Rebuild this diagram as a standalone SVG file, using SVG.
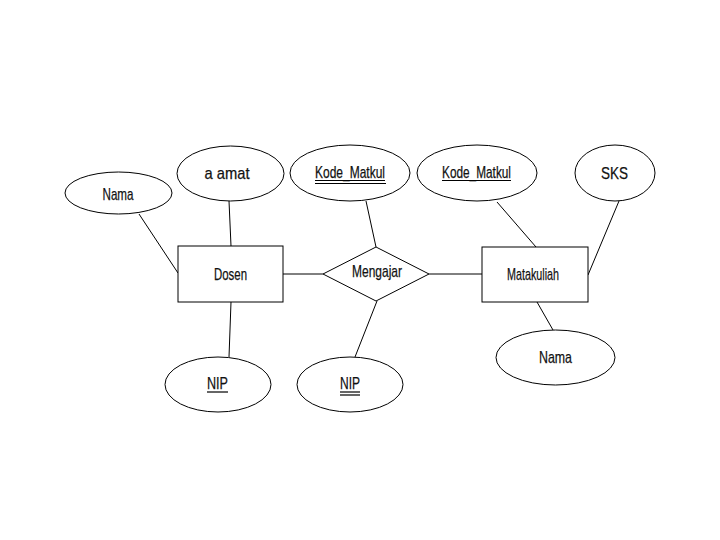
<svg xmlns="http://www.w3.org/2000/svg" width="720" height="540" viewBox="0 0 720 540">
<style>
.s{fill:#fff;stroke:#000;stroke-width:1}
.t{font-family:"Liberation Sans",Arial,sans-serif;font-size:17px;fill:#111;stroke:#111;stroke-width:0.25;text-anchor:middle}
.c{stroke:#000;stroke-width:1;fill:none}
.u{stroke:#000;stroke-width:1.2}
</style>
<rect width="720" height="540" fill="#fff"/>
<g id="connectors">
<line class="c" x1="139" y1="214" x2="178" y2="273"/>
<line class="c" x1="229" y1="201" x2="231" y2="246"/>
<line class="c" x1="231" y1="302" x2="229" y2="357"/>
<line class="c" x1="283" y1="274" x2="323" y2="274"/>
<line class="c" x1="366" y1="201" x2="376" y2="247"/>
<line class="c" x1="377" y1="301" x2="355" y2="357"/>
<line class="c" x1="429" y1="274" x2="482" y2="274"/>
<line class="c" x1="497" y1="202" x2="536" y2="247"/>
<line class="c" x1="619" y1="201" x2="588" y2="275"/>
<line class="c" x1="537" y1="302" x2="553" y2="330"/>
</g>
<g id="nama1">
<ellipse class="s" cx="118.5" cy="193" rx="53.5" ry="21"/>
<text class="t" x="118" y="200" textLength="31" lengthAdjust="spacingAndGlyphs">Nama</text>
</g>
<g id="alamat">
<ellipse class="s" cx="230.5" cy="173.5" rx="53.5" ry="27.5"/>
<text class="t" x="227" y="179" textLength="45" lengthAdjust="spacingAndGlyphs">a amat</text>
</g>
<g id="dosen">
<rect class="s" x="178" y="246" width="105" height="56"/>
<text class="t" x="230.5" y="280" textLength="33" lengthAdjust="spacingAndGlyphs">Dosen</text>
</g>
<g id="kode1">
<ellipse class="s" cx="350" cy="173" rx="60" ry="28"/>
<text class="t" x="350" y="178" textLength="70" lengthAdjust="spacingAndGlyphs">Kode_Matkul</text>
<line class="u" x1="315" y1="180.5" x2="385" y2="180.5"/>
<line class="u" x1="315" y1="183.5" x2="386" y2="183.5"/>
</g>
<g id="mengajar">
<polygon class="s" points="323,274 376,247 429,274 376,301"/>
<text class="t" x="377" y="277" textLength="50" lengthAdjust="spacingAndGlyphs">Mengajar</text>
</g>
<g id="kode2">
<ellipse class="s" cx="477" cy="173" rx="60" ry="28"/>
<text class="t" x="476.5" y="178" textLength="69" lengthAdjust="spacingAndGlyphs">Kode_Matkul</text>
<line class="u" x1="442" y1="180.5" x2="511" y2="180.5"/>
</g>
<g id="sks">
<ellipse class="s" cx="615" cy="173" rx="40" ry="28"/>
<text class="t" x="614.5" y="179" textLength="27" lengthAdjust="spacingAndGlyphs">SKS</text>
</g>
<g id="matakuliah">
<rect class="s" x="482" y="247" width="106" height="55"/>
<text class="t" x="533" y="280" textLength="52" lengthAdjust="spacingAndGlyphs">Matakuliah</text>
</g>
<g id="nama2">
<ellipse class="s" cx="555.5" cy="357.5" rx="59.5" ry="27.5"/>
<text class="t" x="555.5" y="363" textLength="33" lengthAdjust="spacingAndGlyphs">Nama</text>
</g>
<g id="nip1">
<ellipse class="s" cx="218" cy="384.5" rx="53" ry="27.5"/>
<text class="t" x="217.5" y="389" textLength="21" lengthAdjust="spacingAndGlyphs">NIP</text>
<line class="u" x1="207" y1="392" x2="228" y2="392"/>
</g>
<g id="nip2">
<ellipse class="s" cx="350" cy="384.5" rx="53" ry="27.5"/>
<text class="t" x="350" y="389" textLength="20" lengthAdjust="spacingAndGlyphs">NIP</text>
<line class="u" x1="340" y1="392" x2="360" y2="392"/>
<line class="u" x1="340" y1="395" x2="360" y2="395"/>
</g>
</svg>
